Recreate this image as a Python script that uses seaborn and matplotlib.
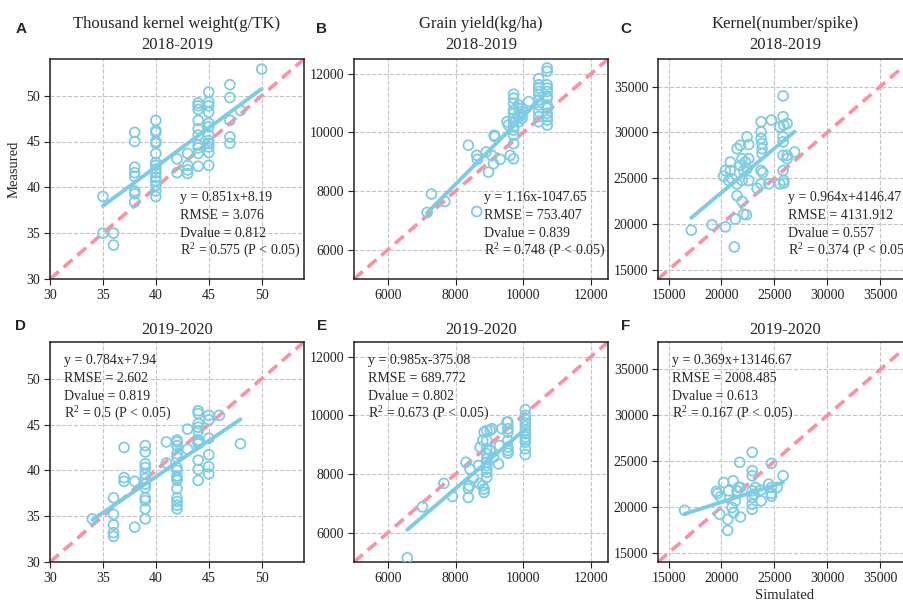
import matplotlib
matplotlib.use("Agg")
import matplotlib.pyplot as plt
import numpy as np
import pandas as pd
import seaborn as sns

# ---------------- data: simulated vs measured ----------------
# Thousand kernel weight (g/TK), 2018-2019
tkw_1819_sim = [35, 35, 36, 36,
                38, 38, 38, 38, 38, 38, 38, 38,
                40, 40, 40, 40, 40, 40, 40, 40, 40, 40, 40, 40, 40, 40, 40,
                42, 42, 43, 43, 43, 43,
                44, 44, 44, 44, 44, 44, 44, 44, 44, 44,
                45, 45, 45, 45, 45, 45, 45, 45, 45, 45, 45, 45,
                47, 47, 47, 47, 47, 48, 50]
tkw_1819_obs = [39.0, 35.0, 35.0, 33.7,
                46.0, 45.0, 42.2, 41.6, 41.2, 39.6, 39.3, 38.4,
                47.3, 46.2, 46.0, 45.0, 44.8, 43.7, 42.7, 42.4, 42.0, 41.6, 41.1, 40.7, 40.2, 39.6, 39.0,
                43.1, 41.6, 43.7, 42.4, 41.9, 41.5,
                49.2, 48.9, 48.5, 47.3, 46.4, 45.7, 44.6, 44.3, 43.7, 42.3,
                50.4, 49.3, 48.9, 48.2, 47.0, 46.6, 45.7, 45.1, 44.8, 44.4, 43.8, 42.4,
                51.2, 49.8, 47.3, 45.5, 44.8, 48.4, 52.9]

# Grain yield (kg/ha), 2018-2019
gy_1819_sim = [7158, 7287, 7683, 8623, 8376, 8623, 8643, 8900, 8970, 9069,
               9118, 9138, 9160, 9316, 9515, 9560, 9614, 9712,
               9712, 9712, 9712, 9712, 9712, 9712, 9712, 9712, 9712, 9712, 9712,
               9861, 9861, 9861, 9861,
               9960, 9960, 9960, 9960,
               10158,
               10455, 10455, 10455, 10455, 10455, 10455, 10455, 10455, 10455, 10455,
               10703, 10703, 10703, 10703, 10703, 10703, 10703, 10703, 10703, 10703, 10703, 10703, 10703]
gy_1819_obs = [7267, 7897, 7645, 7301, 9559, 9215, 9078, 9330, 8642, 9215,
               8929, 9903, 9850, 9078, 10361, 10250, 9215, 9100,
               11301, 11163, 10992, 10762, 10648, 10476, 10361, 10189, 10075, 9903, 9616,
               10934, 10820, 10533, 10361,
               10820, 10705, 10590, 10476,
               11049,
               11828, 11622, 11507, 11393, 11278, 11106, 10934, 10705, 10533, 10361,
               12195, 12080, 11622, 11507, 11393, 11221, 11163, 10934, 10820, 10648, 10533, 10419, 10247]

# Kernel number (number/spike), 2018-2019
kn_1819_sim = [17145, 19100, 20364, 21215, 21310,
               21468, 22100, 22350, 21940, 20200,
               20360, 20840, 20840, 20680, 20990,
               21468, 21783, 22414, 22572, 21468,
               21783, 21940, 22100, 22257, 22414,
               22572, 21940, 22572, 23360, 23740,
               23740, 23740, 23740, 23830, 23830,
               23830, 23740, 23900, 24470, 24720,
               25505, 25505, 25820, 25820, 25885,
               25820, 25820, 25820, 25820, 25885,
               25885, 26200, 26200, 26200, 26895]
kn_1819_obs = [19322, 19908, 19688, 17490, 20531,
               23095, 21080, 21007, 22472, 25220,
               25840, 25840, 26757, 24744, 24930,
               28223, 28590, 29506, 28663, 24377,
               26392, 27125, 25840, 26757, 26025,
               27125, 24744, 24744, 23900, 24377,
               31154, 30055, 29340, 28773, 28223,
               27680, 25840, 25620, 24377, 31337,
               30604, 24377, 33974, 31704, 30788,
               29506, 28960, 27490, 25840, 24744,
               24450, 30970, 27490, 27125, 27857]

# Thousand kernel weight (g/TK), 2019-2020
tkw_1920_sim = [34, 36, 36, 36, 36, 36, 37, 37, 37, 38, 38,
                39, 39, 39, 39, 39, 39, 39, 39, 39, 39, 39, 39,
                41, 41,
                42, 42, 42, 42, 42, 42, 42, 42, 42, 42, 42, 42, 42, 42, 42,
                43, 43,
                44, 44, 44, 44, 44, 44, 44, 44, 44, 44, 44,
                45, 45, 45, 45, 45, 45,
                46, 48]
tkw_1920_obs = [34.7, 37.0, 35.2, 34.05, 33.2, 32.8, 42.5, 39.2, 38.8, 38.8, 33.8,
                42.7, 42.0, 40.7, 40.3, 39.6, 39.1, 38.5, 38.1, 37.0, 36.7, 35.8, 34.7,
                43.1, 40.8,
                43.3, 43.1, 42.7, 41.8, 41.4, 40.3, 40.0, 39.4, 39.2, 38.9, 38.0, 37.0, 36.6, 36.2, 35.8,
                44.5, 42.3,
                46.5, 46.2, 45.1, 44.7, 44.3, 43.3, 43.1, 42.9, 41.1, 40.1, 38.9,
                46.0, 45.5, 43.5, 41.7, 40.4, 39.6,
                46.0, 42.9]

# Grain yield (kg/ha), 2019-2020
gy_1920_sim = [6574, 7020, 7653, 7910, 8307, 8376, 8376, 8405, 8425, 8525,
               8673, 8703, 8723, 8800, 8841, 8841, 8800, 8841, 8920, 9020, 9069,
               8920, 8920, 8920, 8920, 8920, 8920, 8920, 8920, 8920,
               9020, 9118, 9267, 9297, 9366, 9515,
               9544, 9544, 9544, 9544, 9544, 9544, 9544,
               10059, 10059, 10059, 10059, 10059, 10059, 10059, 10059, 10059, 10059, 10059, 10059]
gy_1920_obs = [5142, 6880, 7680, 7234, 8400, 7200, 7508, 7600, 8171, 7863,
               8290, 7680, 8914, 7600, 7485, 7371, 9143, 9428, 9485, 9485, 9543,
               9143, 8857, 8685, 8514, 8400, 8286, 8171, 8057, 7886,
               8800, 8570, 8342, 8971, 9543, 9771,
               9771, 9543, 9428, 9143, 8914, 8800, 8708,
               10194, 10000, 9851, 9737, 9623, 9485, 9371, 9257, 9165, 9085, 8857, 8662]

# Kernel number (number/spike), 2019-2020
kn_1920_sim = [16514, 19510, 19640, 19890, 19830, 20205, 20585, 20585, 20680, 21090,
               21000, 21150, 21310, 21470, 21620, 21720, 21783, 21783, 22900, 22900,
               22900, 22900, 22900, 22900, 22900, 23050, 23200, 23700, 23740, 24470,
               24720, 24720, 24720, 24720, 25250, 25820]
kn_1920_obs = [19645, 21692, 21470, 21107, 19207, 22679, 18657, 17451, 21765, 22862,
               19937, 19390, 20668, 21765, 22131, 24873, 18913, 22131, 25970, 23959,
               23410, 21765, 21035, 20303, 19755, 21400, 22131, 21840, 20668, 22497,
               24763, 22131, 21473, 21180, 22131, 23410]

# Fitted regression and agreement statistics, panels A-F
slopes = [0.851, 1.16, 0.964, 0.784, 0.985, 0.369]
intercepts = [8.19, -1047.65, 4146.47, 7.94, -375.08, 13146.67]
rmse_vals = [3.076, 753.407, 4131.912, 2.602, 689.772, 2008.485]
d_vals = [0.812, 0.839, 0.557, 0.819, 0.802, 0.613]
r2_vals = [0.575, 0.748, 0.374, 0.5, 0.673, 0.167]

panel_letters = ["A", "B", "C", "D", "E", "F"]
variable_titles = ["Thousand kernel weight(g/TK)", "Grain yield(kg/ha)", "Kernel(number/spike)"]
seasons = ["2018-2019", "2019-2020"]
axis_limits = [(30, 54), (5000, 12500), (14000, 38000)]
axis_ticks = [[30, 35, 40, 45, 50],
              [6000, 8000, 10000, 12000],
              [15000, 20000, 25000, 30000, 35000]]

panel_data = [(tkw_1819_sim, tkw_1819_obs), (gy_1819_sim, gy_1819_obs), (kn_1819_sim, kn_1819_obs),
              (tkw_1920_sim, tkw_1920_obs), (gy_1920_sim, gy_1920_obs), (kn_1920_sim, kn_1920_obs)]

# ---------------- style ----------------
sns.set_style("ticks", {"axes.grid": True, "grid.linestyle": "--", "grid.color": "#c4c4c4",
                        "axes.edgecolor": "#222222"})
plt.rcParams["font.family"] = ["Liberation Serif", "DejaVu Serif"]
plt.rcParams["grid.linewidth"] = 0.8
plt.rcParams["axes.linewidth"] = 1.1
plt.rcParams["xtick.major.size"] = 4
plt.rcParams["ytick.major.size"] = 4
plt.rcParams["xtick.color"] = "#222222"
plt.rcParams["ytick.color"] = "#222222"

BLUE = "#7ECBE4"
PINK = "#FF8FA2"

FW, FH = 904, 602
lefts = [50, 354, 658]
tops = [59, 342]
AW, AH = 254, 220

fig = plt.figure(figsize=(FW / 100, FH / 100), dpi=100)

for i, (sim, obs) in enumerate(panel_data):
    r, c = divmod(i, 3)
    ax = fig.add_axes([lefts[c] / FW, 1 - (tops[r] + AH) / FH, AW / FW, AH / FH])
    lo, hi = axis_limits[c]
    df = pd.DataFrame({"Simulated": sim, "Measured": obs})

    sns.scatterplot(data=df, x="Simulated", y="Measured", ax=ax, s=50, marker="o",
                    facecolor="none", edgecolor=BLUE, linewidth=1.3, zorder=3)

    # 1:1 reference line
    ax.plot([lo, hi], [lo, hi], linestyle=(0, (3.2, 1.8)), color=PINK, lw=2.6, zorder=2)

    # fitted regression line over the simulated range
    xs = np.array([min(sim), max(sim)])
    sns.lineplot(x=xs, y=slopes[i] * xs + intercepts[i], ax=ax, color=BLUE, lw=2.8, zorder=4)

    ax.set_xlim(lo, hi)
    ax.set_ylim(lo, hi)
    ax.set_xticks(axis_ticks[c])
    ax.set_yticks(axis_ticks[c])
    ax.tick_params(labelsize=10, direction="out", pad=3)
    ax.set_axisbelow(True)
    for sp in ax.spines.values():
        sp.set_visible(True)
        sp.set_color("#222222")

    ax.set_xlabel("")
    ax.set_ylabel("")
    if r == 0:
        ax.set_title(variable_titles[c] + "\n" + seasons[0], fontsize=12, pad=7, linespacing=1.45)
    else:
        ax.set_title(seasons[1], fontsize=12, pad=6)

    sign = "+" if intercepts[i] >= 0 else "-"
    lines = [f"y = {slopes[i]}x{sign}{abs(intercepts[i])}",
             f"RMSE = {rmse_vals[i]}",
             f"Dvalue = {d_vals[i]}",
             f"R$\\mathregular{{^2}}$ = {r2_vals[i]} (P < 0.05)"]
    if r == 0:
        tx, ty0 = 0.51, 0.37
    else:
        tx, ty0 = 0.055, 0.915
    for k, line in enumerate(lines):
        ax.text(tx, ty0 - k * 0.081, line, transform=ax.transAxes, fontsize=10,
                ha="left", va="center", zorder=6)

    fig.text(21 / FW, 1 - (29 if r == 0 else 326) / FH, panel_letters[i] if c == 0 else "",
             fontsize=11, fontweight="bold", family="Liberation Sans", ha="center", va="center")
    if c > 0:
        fig.text((lefts[c] - 32) / FW, 1 - (29 if r == 0 else 326) / FH, panel_letters[i],
                 fontsize=11, fontweight="bold", family="Liberation Sans", ha="center", va="center")

    if i == 0:
        ax.set_ylabel("Measured", fontsize=10.5)
    if i == 5:
        ax.set_xlabel("Simulated", fontsize=10.5, labelpad=3)

fig.savefig("out.png", dpi=100)
